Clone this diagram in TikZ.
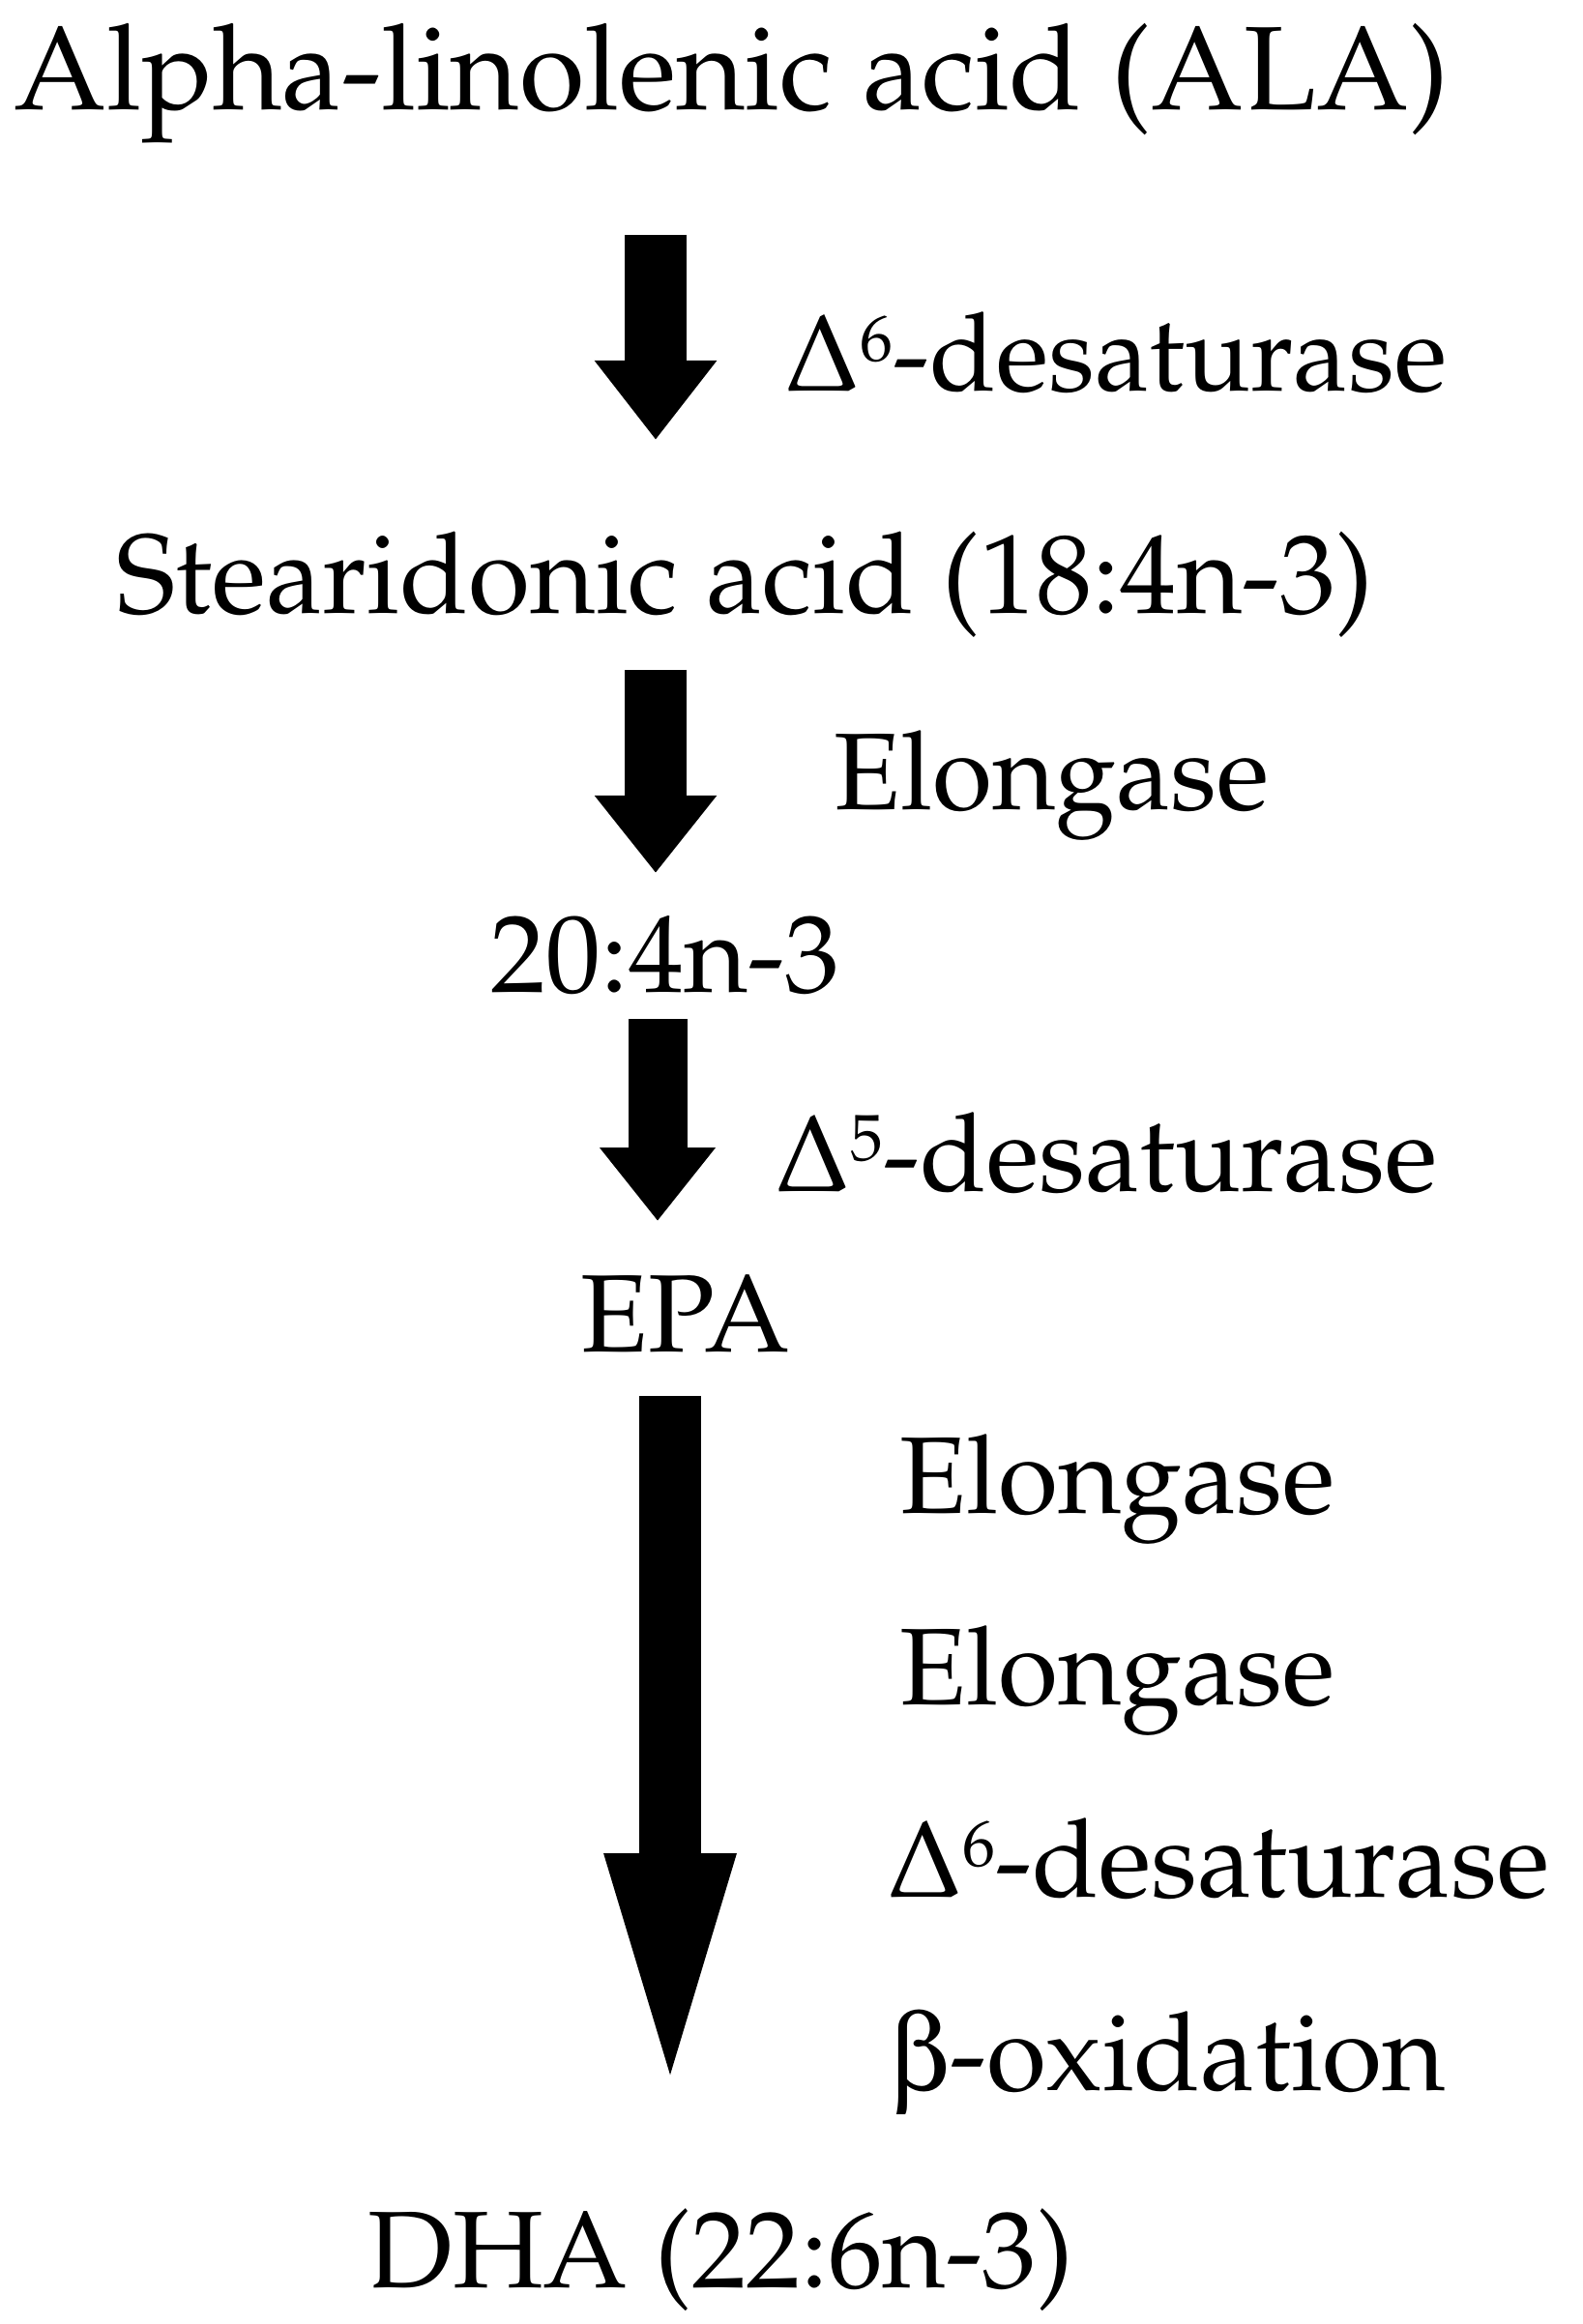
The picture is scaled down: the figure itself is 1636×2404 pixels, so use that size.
\documentclass[tikz,border=0pt]{standalone}
\usepackage[T1]{fontenc}
\usepackage{mathpazo}
\usepackage[Symbol]{upgreek}
\usepackage{tikz}
\usetikzlibrary{arrows.meta}

\newcommand{\dsup}[1]{$\Delta$\raisebox{0.28em}{\scalebox{0.6}{#1}}}

\tikzset{
  chem/.style={anchor=base west,inner sep=0pt,font=\fontsize{28.5}{34}\selectfont},
  enz/.style={anchor=base west,inner sep=0pt,font=\fontsize{28.2}{33}\selectfont},
  fat/.style n args={3}{line width=#1,-{Triangle[length=#2,width=#3]}}
}

\begin{document}
\begin{tikzpicture}[x=0.25pt,y=-0.25pt]
    \useasboundingbox (0,0) rectangle (1636,2404);
    % substrates
    \draw[] (14,114) node[chem,font=\fontsize{30.75}{36}\selectfont] (ALA) {Alpha-linolenic acid (ALA)};
    \draw[] (120,635) node[chem,font=\fontsize{29.1}{34}\selectfont] (SDA) {Stearidonic acid (18:4n-3)};
    \draw[] (507,1026) node[chem] (ETA) {20:4n-3};
    \draw[] (600,1398) node[chem] (EPA) {EPA};
    \draw[] (380,2366) node[chem,font=\fontsize{28.2}{34}\selectfont] (DHA) {DHA (22:6n-3)};
    % enzymes
    \draw[] (810,405) node[enz] (D6a) {\dsup{6}-desaturase};
    \draw[] (862,838) node[enz] (Elo) {Elongase};
    \draw[] (800,1232) node[enz] (D5) {\dsup{5}-desaturase};
    \draw[] (930,1565) node[enz] (EloA) {Elongase};
    \draw[] (930,1763) node[enz] (EloB) {Elongase};
    \draw[] (916,1962) node[enz] (D6b) {\dsup{6}-desaturase};
    \draw[] (920,2162) node[enz] (Box) {$\upbeta$-oxidation};
    % arrows
    \coordinate (s1) at (678,243);  \coordinate (t1) at (678,455);
    \coordinate (s2) at (678,693);  \coordinate (t2) at (678,903);
    \coordinate (s3) at (680,1054); \coordinate (t3) at (680,1263);
    \coordinate (s4) at (693,1444); \coordinate (t4) at (693,2200);
    \draw[fat={16pt}{20.5pt}{30.25pt}] (s1) -- (t1);
    \draw[fat={16pt}{20pt}{30.25pt}] (s2) -- (t2);
    \draw[fat={15.25pt}{19pt}{28.75pt}] (s3) -- (t3);
    \draw[fat={16pt}{70.75pt}{28pt}] (s4) -- (t4);
\end{tikzpicture}
\end{document}
